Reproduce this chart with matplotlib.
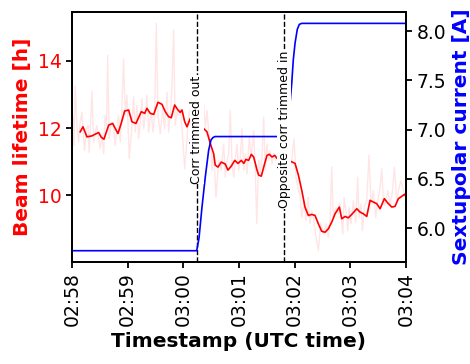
import numpy as np
import pandas as pd
import matplotlib
matplotlib.use("Agg")
import matplotlib.pyplot as plt
import matplotlib.dates as mdates

t0 = pd.Timestamp("2018-01-01 02:58:00")

# raw beam lifetime (seconds after 02:58:00, hours)
raw_sec = [0, 1.1, 2.2, 3.6, 5.4, 7.2, 8.9, 10.8, 12.2, 13.7, 15.4, 17.2, 18.6, 20.2,
           21.6, 23.4, 25.1, 26.9, 28.8, 30.5, 32.3, 34.2, 35.9, 37.4, 38.5, 40.2, 42.4,
           44.9, 46.7, 48.5, 50.3, 52.1, 53.9, 55.7, 57.4, 59.3, 61.8, 64.7, 66.5, 68.2,
           70.1, 71.9, 73.6, 75.4, 77.3, 79.0, 80.8, 82.7, 84.4, 85.5, 87.3, 89.1, 90.9,
           92.7, 95.2, 97.8, 99.9, 102.4, 104.2, 105.9, 107.8, 109.6, 111.3, 113.2, 115.0,
           116.7, 118.6, 120.4, 121.5, 124.0, 125.8, 127.5, 129.3, 132.0, 135.0, 138.3,
           141.9, 143.7, 145.5, 147.3, 149.1, 150.9, 152.7, 155.2, 158.1, 160.9, 163.5,
           165.2, 167.1, 168.9, 170.6, 172.5, 174.3, 176.0, 177.8, 179.7, 181.4, 183.2,
           185.1, 186.8, 188.6, 191.1, 193.3, 195.8, 197.6, 199.1, 201.2, 203.0, 204.8,
           206.6, 208.3, 210.2, 212.0, 213.7, 215.6, 217.4, 219.1, 221.0, 223.1, 226.0,
           229.0, 231.7, 235.0, 236.8, 239.3, 241.4, 243.9, 245.7, 247.6, 250.1, 252.2,
           254.7, 256.5, 258.4, 260.1, 263.0, 265.5, 268.1, 270.9, 273.8, 276.2, 278.1,
           279.9, 281.6, 284.5, 287.0, 288.9, 291.8, 293.2, 296.1, 297.2, 298.6, 300.7,
           303.2, 305.8, 307.9, 309.3, 311.5, 312.9, 315.0, 317.6, 320.1, 322.3, 324.7,
           327.3, 329.5, 332.0, 333.8, 335.5, 337.4, 340.3, 342.7, 345.2, 347.4, 349.9,
           351.7, 354.6, 357.1, 359.7]
raw_val = [11.88, 12.38, 11.48, 13.27, 12.08, 11.58, 12.18, 12.48, 11.78, 11.33, 11.98,
           12.08, 11.28, 12.18, 13.10, 11.58, 11.88, 12.08, 11.68, 11.39, 11.78, 11.24,
           12.38, 12.08, 14.17, 11.68, 12.18, 12.08, 11.48, 11.98, 12.38, 11.58, 12.68,
           14.07, 12.38, 12.98, 11.09, 12.08, 12.93, 11.88, 12.68, 11.68, 12.18, 12.88,
           11.98, 12.38, 12.98, 11.88, 12.28, 12.48, 11.88, 12.38, 15.12, 12.38, 11.83,
           12.58, 11.98, 13.07, 11.88, 12.38, 13.27, 14.92, 12.08, 12.48, 12.38, 12.58,
           11.98, 11.28, 10.79, 11.68, 12.38, 12.58, 12.18, 11.9, 12.5, 12.23, 12.73,
           12.03, 12.53, 11.93, 11.63, 10.74, 11.24, 9.94, 11.04, 10.74, 11.53, 10.54,
           11.04, 11.24, 12.53, 10.94, 10.54, 11.04, 11.53, 10.74, 11.13, 11.98, 10.74,
           11.24, 10.64, 11.73, 11.13, 11.93, 10.74, 9.16, 11.04, 10.64, 11.13, 12.33,
           10.74, 11.53, 11.04, 11.33, 10.94, 11.24, 11.04, 11.13, 11.0, 11.3, 10.9, 11.1,
           10.84, 11.04, 11.68, 10.54, 10.14, 10.04, 9.34, 9.84, 9.24, 9.94, 9.15, 9.54,
           9.34, 8.75, 8.35, 9.15, 8.85, 9.15, 8.75, 9.24, 10.84, 9.34, 9.64, 9.44, 9.74,
           8.85, 9.94, 9.34, 8.95, 9.64, 9.15, 9.84, 9.19, 10.54, 9.34, 9.74, 8.95, 9.64,
           9.84, 11.19, 9.74, 10.14, 9.34, 9.84, 10.24, 10.79, 9.84, 9.69, 10.14, 9.74,
           10.09, 10.84, 9.84, 10.14, 10.44, 10.14, 9.94]

# smoothed beam lifetime
avg_sec = [8.9, 11.9, 16.2, 21.6, 25.1, 28.8, 31.6, 34.5, 39.6, 43.9, 46.7, 49.6, 53.1,
           56.8, 61.1, 64.7, 69.0, 74.7, 78.4, 80.8, 84.4, 88.1, 92.7, 97.0, 100.6, 104.2,
           107.0, 110.7, 114.2, 116.7, 118.6, 121.5, 124.0, 127.5, 134.0, 141.9, 145.5,
           149.1, 152.7, 154.4, 157.4, 160.9, 165.2, 168.1, 171.7, 175.4, 178.9, 182.5,
           185.1, 187.5, 190.4, 193.3, 195.8, 197.6, 199.4, 201.2, 204.0, 207.7, 210.2,
           212.7, 215.6, 218.5, 221.0, 228.0, 235.0, 240.4, 244.0, 247.6, 251.1, 254.7,
           258.4, 261.9, 265.5, 269.1, 272.7, 276.2, 279.9, 283.5, 288.1, 290.7, 294.2,
           297.8, 302.1, 306.9, 310.4, 314.0, 317.6, 321.2, 324.7, 328.4, 332.0, 336.6,
           340.3, 344.6, 348.1, 351.7, 355.4, 358.2, 359.7]
avg_val = [11.89, 12.04, 11.74, 11.77, 11.82, 11.87, 11.73, 11.67, 12.09, 12.14, 11.99,
           11.84, 12.14, 12.51, 12.54, 12.19, 12.14, 12.49, 12.44, 12.59, 12.44, 12.41,
           12.77, 12.71, 12.49, 12.34, 12.31, 12.69, 12.54, 12.47, 12.54, 12.19, 12.04,
           12.29, 12.1, 11.99, 11.89, 11.54, 11.24, 10.90, 10.84, 10.99, 10.93, 10.75,
           10.87, 11.04, 10.95, 11.04, 10.95, 11.07, 11.04, 11.22, 11.14, 10.95, 10.75,
           10.60, 10.57, 10.95, 11.19, 11.22, 11.14, 11.19, 11.10, 11.05, 11.02, 10.95,
           10.60, 10.15, 9.65, 9.40, 9.43, 9.40, 9.15, 8.93, 8.90, 9.00, 9.20, 9.45, 9.65,
           9.30, 9.37, 9.33, 9.45, 9.60, 9.50, 9.45, 9.37, 9.85, 9.80, 9.75, 9.60, 9.90,
           9.77, 9.65, 9.67, 9.90, 9.97, 10.03, 9.97]

# sextupole current
cur_sec = [0, 134.4, 136.9, 140.1, 143.7, 147.3, 149.8, 152.0, 154.1, 228.0, 235.0, 236.8,
           238.5, 240.4, 242.8, 245.0, 247.6, 360]
cur_val = [5.77, 5.77, 5.895, 6.21, 6.52, 6.79, 6.895, 6.92, 6.93, 6.93, 7.27, 7.47, 7.71,
           7.88, 8.02, 8.07, 8.08, 8.08]

event_sec = [134.4, 228.5]
event_txt = ["Corr trimmed out", "Opposite corr trimmed in"]


def to_time(secs):
    return t0 + pd.to_timedelta(secs, unit="s")


plt.rcParams["font.size"] = 13.5
fig, ax = plt.subplots(figsize=(4.7, 3.64), dpi=100)
fig.subplots_adjust(left=0.153, right=0.864, top=0.967, bottom=0.28)

ax.plot(to_time(raw_sec), raw_val, color="red", alpha=0.1, lw=1)
ax.plot(to_time(avg_sec), avg_val, color="red", lw=1.2)
ax.set_ylabel("Beam lifetime [h]", color="red", fontweight="bold", fontsize=14.5)
ax.tick_params(axis="y", labelcolor="red")
ax.set_xlabel("Timestamp (UTC time)", fontweight="bold", fontsize=14.5)

for s in event_sec:
    ax.axvline(to_time(s), color="black", ls="--", lw=1)

ax2 = ax.twinx()
ax2.plot(to_time(cur_sec), cur_val, color="blue", lw=1.2)
ax2.set_ylabel("Sextupolar current [A]", color="blue", fontweight="bold", fontsize=14.5)
ax2.set_yticks([6.0, 6.5, 7.0, 7.5, 8.0])

for s, txt in zip(event_sec, event_txt):
    ax2.text(to_time(s), 7.0, txt, rotation=90, ha="center", va="center", fontsize=9,
             bbox=dict(facecolor="white", edgecolor="none", boxstyle="square,pad=0.05"))

ax.set_xlim(to_time(0), to_time(360))
ax.xaxis.set_major_locator(mdates.MinuteLocator())
ax.xaxis.set_major_formatter(mdates.DateFormatter("%H:%M"))
plt.setp(ax.get_xticklabels(), rotation=90)

for a in (ax, ax2):
    for sp in a.spines.values():
        sp.set_linewidth(1.3)
    a.tick_params(width=1.3, length=4)

fig.savefig("out.png", dpi=100)
